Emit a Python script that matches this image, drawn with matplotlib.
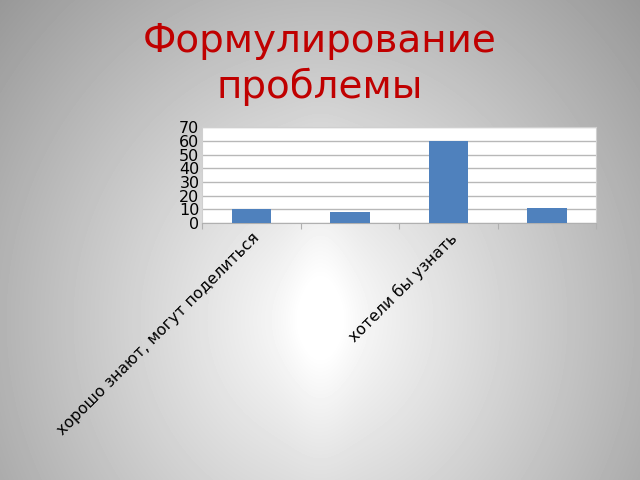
import numpy as np
import matplotlib.pyplot as plt

# data
categories = ["хорошо знают, могут поделиться", "", "хотели бы узнать", ""]
values = [10, 8, 60, 11]
yticks = [0, 10, 20, 30, 40, 50, 60, 70]

fig = plt.figure(figsize=(6.4, 4.8), dpi=100)

# radial grey background like the slide
bg = fig.add_axes([0, 0, 1, 1], zorder=-10)
yy, xx = np.mgrid[0:480, 0:640]
r = np.sqrt((xx - 320) ** 2 + ((yy - 320) / 1.1) ** 2)
shade = 1.0 - r / 450 * 0.42
streak = 0.035 * np.exp(-((xx - 320) / 30.0) ** 2) * np.exp(-((yy - 300) / 150.0) ** 2)
shade = np.clip(shade + streak, 0.58, 1.0)
bg.imshow(shade, cmap="gray", vmin=0, vmax=1, aspect="auto", extent=[0, 1, 0, 1])
bg.axis("off")

fig.text(0.5, 0.915, "Формулирование", ha="center", va="center",
         fontsize=28, color="#c00000")
fig.text(0.5, 0.82, "проблемы", ha="center", va="center",
         fontsize=28, color="#c00000")

ax = fig.add_axes([0.316, 0.535, 0.616, 0.2])
x = np.arange(len(values))
ax.bar(x, values, width=0.4, color="#4f81bd", zorder=3)
ax.set_xlim(-0.5, len(values) - 0.5)
ax.set_ylim(0, 70)
ax.set_yticks(yticks)
ax.tick_params(axis="y", labelsize=11.5, length=0, pad=2)
ax.yaxis.grid(True, color="#b8b8b8", linewidth=1, zorder=0)

# category ticks sit between bars, labels centred under bars
ax.set_xticks(np.arange(len(values) + 1) - 0.5)
ax.set_xticklabels([])
ax.tick_params(axis="x", length=4, color="#b0b0b0")
ax.set_xticks(x, minor=True)
ax.set_xticklabels(categories, minor=True, rotation=45, ha="right",
                   rotation_mode="anchor", fontsize=11.3)
ax.tick_params(axis="x", which="minor", length=0, pad=5)

for side in ["top", "right", "left"]:
    ax.spines[side].set_color("#d0d0d0")
ax.spines["bottom"].set_color("#b0b0b0")

fig.savefig("out.png", dpi=100)
